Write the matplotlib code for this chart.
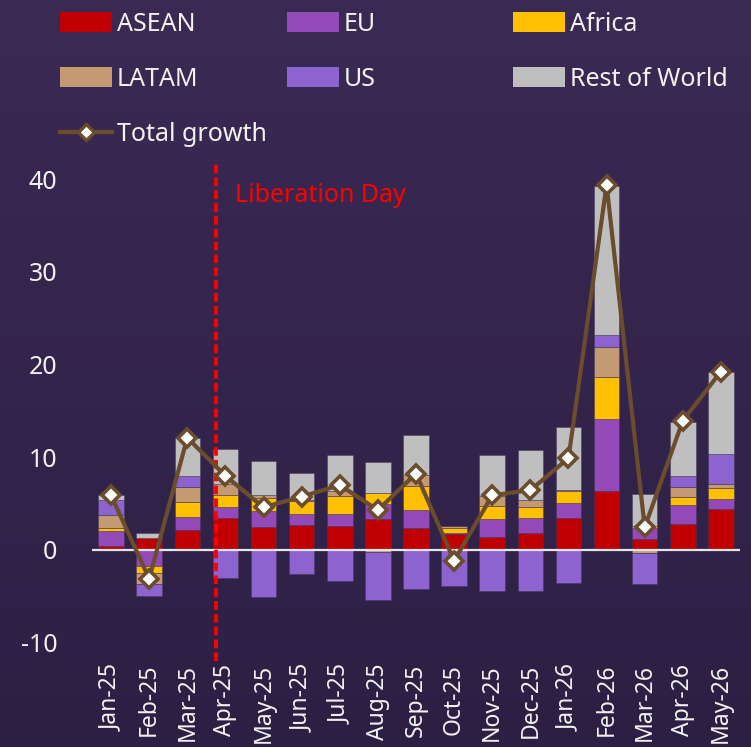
"""Monthly export growth by destination, stacked contributions with total line."""

import matplotlib

matplotlib.use("Agg")
import matplotlib.pyplot as plt
import numpy as np
from matplotlib.colors import LinearSegmentedColormap
from matplotlib.lines import Line2D
from matplotlib.patches import Patch

months = [
    "Jan-25", "Feb-25", "Mar-25", "Apr-25", "May-25", "Jun-25", "Jul-25",
    "Aug-25", "Sep-25", "Oct-25", "Nov-25", "Dec-25", "Jan-26", "Feb-26",
    "Mar-26", "Apr-26", "May-26",
]
asean = [0.43, 1.26, 2.12, 3.49, 2.48, 2.66, 2.59, 3.38, 2.37, 1.69, 1.40, 1.87, 3.42, 6.37, 1.22, 2.81, 4.39]
eu = [1.62, -1.73, 1.47, 1.19, 1.73, 1.19, 1.33, 1.55, 1.94, 0.10, 1.98, 1.62, 1.62, 7.77, 1.19, 2.01, 1.15]
africa = [0.32, -0.72, 1.58, 1.22, 1.44, 1.44, 1.91, 1.26, 2.59, 0.58, 1.37, 1.19, 1.33, 4.57, 0.15, 0.94, 1.12]
latam = [1.37, -1.19, 1.62, 1.19, 0.25, 0.05, 0.50, -0.20, 1.15, 0.20, 1.08, 0.72, 0.05, 3.24, -0.29, 1.08, 0.50]
us = [1.65, -1.33, 1.19, -3.02, -5.10, -2.59, -3.38, -5.15, -4.20, -3.85, -4.39, -4.42, -3.52, 1.29, -3.42, 1.15, 3.24]
rest_of_world = [0.50, 0.60, 4.06, 3.85, 3.70, 2.95, 3.88, 3.31, 4.32, 0.05, 4.39, 5.40, 6.87, 16.04, 3.49, 5.86, 8.78]
total_growth = [5.9, -3.1, 12.1, 8.0, 4.6, 5.75, 7.0, 4.3, 8.25, -1.15, 5.9, 6.45, 9.9, 39.4, 2.45, 13.95, 19.25]

series = [
    ("ASEAN", asean, "#c00000"),
    ("EU", eu, "#9449b9"),
    ("Africa", africa, "#ffc000"),
    ("LATAM", latam, "#c49a72"),
    ("US", us, "#8c63cf"),
    ("Rest of World", rest_of_world, "#bfbfbf"),
]

TEXT = "#f2f2f2"
LINE = "#6b4c2c"

plt.rcParams["font.family"] = ["Noto Sans", "DejaVu Sans"]
plt.rcParams["font.size"] = 18
plt.rcParams["axes.unicode_minus"] = False

W, H = 751, 747
fig = plt.figure(figsize=(W / 100, H / 100), dpi=100)
fig.patch.set_facecolor("#33244b")

# vertical gradient background
bg = fig.add_axes([0, 0, 1, 1], zorder=-10)
grad = LinearSegmentedColormap.from_list("bg", ["#2d1f44", "#3b2a54"])
bg.imshow(np.linspace(0, 1, 256).reshape(-1, 1), aspect="auto", cmap=grad,
          origin="lower", extent=(0, 1, 0, 1))
bg.set_axis_off()

ax = fig.add_axes([92 / W, 1 - 661.2 / H, 648 / W, 500.5 / H])
ax.set_facecolor("none")

x = np.arange(len(months))
pos_bottom = np.zeros(len(months))
neg_bottom = np.zeros(len(months))
for name, values, colour in series:
    vals = np.asarray(values, dtype=float)
    bottoms = np.where(vals >= 0, pos_bottom, neg_bottom)
    ax.bar(x, vals, bottom=bottoms, width=0.67, color=colour,
           edgecolor=(0.25, 0.2, 0.35, 0.45), linewidth=0.7, zorder=2)
    pos_bottom += np.clip(vals, 0, None)
    neg_bottom += np.clip(vals, None, 0)

ax.axhline(0, color="#e6e6e6", linewidth=1.6, zorder=3)
ax.plot(x, total_growth, color=LINE, linewidth=3, marker="D", markersize=9,
        markerfacecolor="white", markeredgecolor=LINE, markeredgewidth=2.6,
        zorder=5)

ax.axvline(2.75, color="#ff0000", linewidth=2.8, dashes=(2.2, 1.1), zorder=4)
ax.text(3.25, 38.2, "Liberation Day", color="#ff0000", fontsize=18,
        ha="left", va="center")

ax.set_xlim(-0.5, 16.5)
ax.set_ylim(-12, 42)
ax.set_yticks([-10, 0, 10, 20, 30, 40])
ax.set_xticks(x)
ax.set_xticklabels(months, rotation=90, fontsize=16.5)
ax.tick_params(axis="both", length=0, colors=TEXT)
ax.tick_params(axis="y", pad=25, labelsize=18)
ax.tick_params(axis="x", pad=2)
for spine in ax.spines.values():
    spine.set_visible(False)

# legend laid out as a fixed 3-column grid
legend_columns = [
    (60, [0, 3], True),
    (287, [1, 4], False),
    (513, [2, 5], False),
]
for left, idxs, with_line in legend_columns:
    handles = [Patch(facecolor=series[i][2], edgecolor="none") for i in idxs]
    labels = [series[i][0] for i in idxs]
    if with_line:
        handles.append(Line2D([], [], color=LINE, linewidth=3, marker="D",
                              markersize=8, markerfacecolor="white",
                              markeredgecolor=LINE, markeredgewidth=2.4))
        labels.append("Total growth")
    leg = fig.legend(handles, labels, loc="upper left",
                     bbox_to_anchor=(left / W, 1 - 12 / H), frameon=False,
                     borderpad=0, borderaxespad=0, handlelength=2.08,
                     handleheight=0.84, handletextpad=0.2, labelspacing=1.2,
                     fontsize=18)
    for t in leg.get_texts():
        t.set_color(TEXT)

fig.savefig("out.png", dpi=100, facecolor=fig.get_facecolor())
